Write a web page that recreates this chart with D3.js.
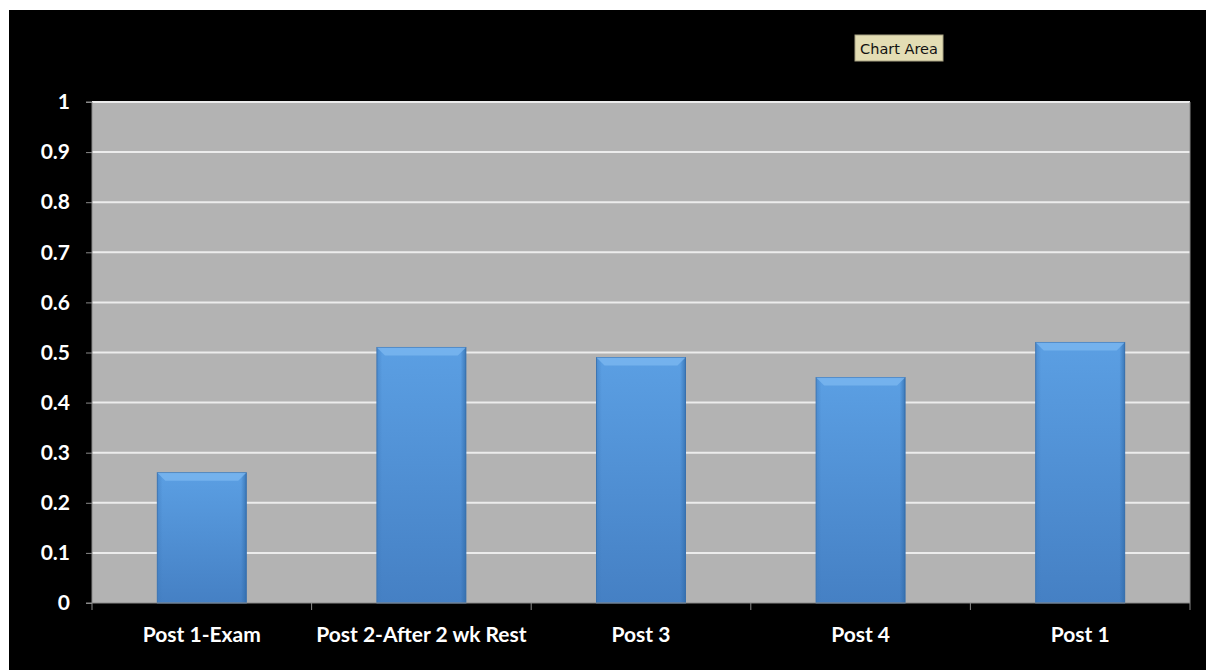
<!DOCTYPE html>
<html><head><meta charset="utf-8">
<script src="https://cdn.jsdelivr.net/npm/d3@7"></script>
<style>
html,body{margin:0;padding:0;background:#fff;}
svg{display:block;}
</style></head>
<body>
<script>
const categories = ["Post 1-Exam", "Post 2-After 2 wk Rest", "Post 3", "Post 4", "Post 1"];
const values = [0.26, 0.51, 0.49, 0.45, 0.52];
const yTicks = [0, 0.1, 0.2, 0.3, 0.4, 0.5, 0.6, 0.7, 0.8, 0.9, 1];
const yTickLabels = ["0", "0.1", "0.2", "0.3", "0.4", "0.5", "0.6", "0.7", "0.8", "0.9", "1"];
const tooltipText = "Chart Area";

const W = 1206, H = 670;
const svg = d3.select("body").append("svg").attr("width", W).attr("height", H);

// black chart area with white margin top/left
svg.append("rect").attr("x", 9).attr("y", 10).attr("width", W - 9).attr("height", H - 10).attr("fill", "#000");

const plot = {left: 92, top: 102, right: 1190, bottom: 603};
const x = d3.scaleBand().domain(categories).range([plot.left, plot.right]).paddingInner(0.595).paddingOuter(0.2975);
const y = d3.scaleLinear().domain([0, 1]).range([plot.bottom, plot.top]);

const defs = svg.append("defs");
const grad = defs.append("linearGradient").attr("id", "barGrad").attr("x1", 0).attr("y1", 0).attr("x2", 0).attr("y2", 1);
grad.append("stop").attr("offset", "0%").attr("stop-color", "#5b9fe3");
grad.append("stop").attr("offset", "100%").attr("stop-color", "#4580c4");
const hgrad = defs.append("linearGradient").attr("id", "sideGrad").attr("x1", 0).attr("y1", 0).attr("x2", 1).attr("y2", 0);
hgrad.append("stop").attr("offset", "0%").attr("stop-color", "#3f7bbd").attr("stop-opacity", 0.5);
hgrad.append("stop").attr("offset", "6%").attr("stop-color", "#3f7bbd").attr("stop-opacity", 0);
hgrad.append("stop").attr("offset", "94%").attr("stop-color", "#2f6aa8").attr("stop-opacity", 0);
hgrad.append("stop").attr("offset", "100%").attr("stop-color", "#2f6aa8").attr("stop-opacity", 0.7);

// plot background
svg.append("rect").attr("x", plot.left).attr("y", plot.top)
  .attr("width", plot.right - plot.left).attr("height", plot.bottom - plot.top).attr("fill", "#b3b3b3");

// gridlines
svg.append("g").selectAll("line").data(yTicks.filter(d => d > 0)).join("line")
  .attr("x1", plot.left).attr("x2", plot.right)
  .attr("y1", d => y(d)).attr("y2", d => y(d))
  .attr("stroke", "#ececec").attr("stroke-width", 2);

// right border of plot
svg.append("line").attr("x1", plot.right).attr("x2", plot.right).attr("y1", plot.top).attr("y2", plot.bottom)
  .attr("stroke", "#8a8a8a").attr("stroke-width", 1);

// bars
const bars = svg.append("g").selectAll("g").data(categories).join("g");
bars.append("rect")
  .attr("x", d => x(d)).attr("width", x.bandwidth())
  .attr("y", (d, i) => y(values[i])).attr("height", (d, i) => y(0) - y(values[i]))
  .attr("fill", "url(#barGrad)").attr("stroke", "#3a72b0").attr("stroke-width", 1);
bars.append("rect")
  .attr("x", d => x(d)).attr("width", x.bandwidth())
  .attr("y", (d, i) => y(values[i])).attr("height", (d, i) => y(0) - y(values[i]))
  .attr("fill", "url(#sideGrad)");
// bevel top
bars.append("path")
  .attr("d", (d, i) => {
    const x0 = x(d), x1 = x(d) + x.bandwidth(), t = y(values[i]), b = 8;
    return `M${x0},${t}L${x1},${t}L${x1 - b},${t + b}L${x0 + b},${t + b}Z`;
  })
  .attr("fill", "#7ab6f0").attr("opacity", 0.8);

// axes
const yAxis = d3.axisLeft(y).tickValues(yTicks).tickFormat((d, i) => yTickLabels[i]).tickSize(6).tickPadding(16);
const gy = svg.append("g").attr("transform", `translate(${plot.left},0)`).call(yAxis);
gy.select(".domain").attr("stroke", "#8a8a8a").attr("d", `M-6,${plot.top}H0V${plot.bottom}H-6`);
gy.selectAll(".tick line").attr("stroke", "#8a8a8a");
gy.selectAll("text").attr("fill", "#fff").attr("font-family", "Lato, 'Open Sans', sans-serif")
  .attr("font-weight", "bold").attr("font-size", 21);

const xAxis = d3.axisBottom(x).tickSize(0).tickPadding(24);
const gx = svg.append("g").attr("transform", `translate(0,${plot.bottom})`).call(xAxis);
gx.select(".domain").attr("stroke", "#8a8a8a").attr("d", `M${plot.left},0H${plot.right}`);
gx.selectAll("text").attr("fill", "#fff").attr("font-family", "Lato, 'Open Sans', sans-serif")
  .attr("font-weight", "bold").attr("font-size", 21);
// category boundary ticks
const bounds = d3.range(categories.length + 1).map(i => plot.left + i * (plot.right - plot.left) / categories.length);
gx.append("g").selectAll("line").data(bounds).join("line")
  .attr("x1", d => d).attr("x2", d => d).attr("y1", 0).attr("y2", 7)
  .attr("stroke", "#8a8a8a");

// tooltip
const tt = svg.append("g").attr("transform", "translate(855,35)");
tt.append("rect").attr("width", 88).attr("height", 26).attr("fill", "#e3ddb4").attr("stroke", "#a8a283").attr("stroke-width", 1);
tt.append("text").attr("x", 44).attr("y", 18.5).attr("text-anchor", "middle")
  .attr("font-family", "'DejaVu Sans', sans-serif").attr("font-size", 14.5).attr("fill", "#111")
  .text(tooltipText);
</script>
</body></html>
